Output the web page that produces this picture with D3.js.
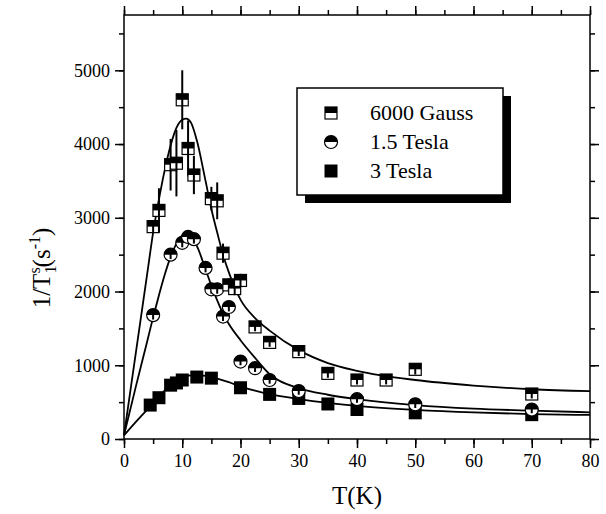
<html>
<script src="https://cdnjs.cloudflare.com/ajax/libs/d3/7.8.5/d3.min.js"></script>
<body style="margin:0;background:#fff">
<style>
.axis line { stroke: #000; stroke-width: 1.5; }
.axis .domain { display: none; }
.fit { fill: none; stroke: #000; stroke-width: 1.8; }
</style>
<script>
// 6000 Gauss
var tGauss = [5, 6, 8, 9, 10, 11, 12, 15, 16, 17, 18, 19, 20, 22.5, 25, 30, 35, 40, 45, 50, 70]
var rGauss = [2880, 3100, 3720, 3740, 4600, 3940, 3580, 3260, 3230, 2520, 2090, 2040, 2150, 1520, 1310, 1185, 890, 800, 800, 945, 610]
var eGauss = [90, 300, 350, 450, 400, 380, 260, 160, 250, 130, 90, 90, 90, 60, 60, 60, 60, 60, 60, 70, 60]
// 1.5 Tesla
var t15 = [5, 8, 10, 11, 12, 14, 15, 16, 17, 18, 20, 22.5, 25, 30, 40, 50, 70]
var r15 = [1680, 2500, 2660, 2740, 2710, 2320, 2030, 2030, 1660, 1790, 1050, 960, 800, 650, 540, 470, 400]
var e15 = [60, 60, 60, 60, 60, 60, 60, 60, 60, 60, 50, 50, 50, 50, 50, 50, 50]
// 3 Tesla
var t3 = [4.5, 6, 8, 9, 10, 12.5, 15, 20, 25, 30, 35, 40, 50, 70]
var r3 = [460, 560, 730, 760, 800, 840, 825, 695, 605, 550, 475, 400, 355, 330]

// fitted curves
var fitT = [0, 2, 4, 5, 6, 7, 8, 9, 10, 10.7, 11.5, 12.5, 14, 15, 16, 17, 18, 20, 22.5, 25, 30, 35, 40, 50, 60, 70, 80]
var fitGauss = [50, 1150, 2250, 2800, 3250, 3650, 3980, 4220, 4330, 4345, 4290, 4050, 3500, 3120, 2800, 2500, 2260, 1890, 1640, 1470, 1205, 1030, 925, 800, 725, 675, 650]
var fit15 = [50, 700, 1330, 1650, 1950, 2230, 2470, 2650, 2760, 2785, 2740, 2620, 2300, 2080, 1880, 1700, 1560, 1340, 1100, 880, 690, 600, 540, 460, 412, 384, 362]
var fit3 = [50, 230, 400, 480, 570, 660, 730, 790, 830, 850, 862, 866, 855, 840, 818, 795, 770, 710, 655, 608, 542, 490, 450, 396, 360, 337, 326]

var xTicks = [0, 10, 20, 30, 40, 50, 60, 70, 80]
var yTicks = [0, 1000, 2000, 3000, 4000, 5000]
var legendNames = ["6000 Gauss", "1.5 Tesla", "3 Tesla"]

var W = 606, H = 514
var x = d3.scaleLinear().domain([0, 80]).range([124, 590])
var y = d3.scaleLinear().domain([0, 5750]).range([439, 15])
var serif = "'Liberation Serif', 'Times New Roman', serif"

var svg = d3.select("body").append("svg").attr("width", W).attr("height", H)

function minorTicks(step, max) {
  return d3.range(0, max + 0.001, step)
}
function addAxis(axis, tx, ty) {
  var g = svg.append("g").attr("class", "axis")
    .attr("transform", "translate(" + tx + "," + ty + ")")
    .call(axis)
  g.selectAll("text").style("font-family", serif).style("font-size", "18px").attr("fill", "#000")
  return g
}

// axes: minor then major ticks, all pointing outwards
addAxis(d3.axisBottom(x).tickValues(minorTicks(5, 80)).tickSize(5).tickFormat(""), 0, 439)
addAxis(d3.axisBottom(x).tickValues(xTicks).tickSize(9).tickPadding(6).tickFormat(d3.format("d")), 0, 439)
addAxis(d3.axisTop(x).tickValues(minorTicks(5, 80)).tickSize(5).tickFormat(""), 0, 15)
addAxis(d3.axisTop(x).tickValues(xTicks).tickSize(9).tickFormat(""), 0, 15)
addAxis(d3.axisLeft(y).tickValues(minorTicks(500, 5500)).tickSize(5).tickFormat(""), 124, 0)
addAxis(d3.axisLeft(y).tickValues(yTicks).tickSize(9).tickPadding(5).tickFormat(d3.format("d")), 124, 0)
addAxis(d3.axisRight(y).tickValues(minorTicks(500, 5500)).tickSize(5).tickFormat(""), 590, 0)
addAxis(d3.axisRight(y).tickValues(yTicks).tickSize(9).tickFormat(""), 590, 0)

// frame
svg.append("rect").attr("x", 124).attr("y", 15).attr("width", 466).attr("height", 424)
  .attr("fill", "none").attr("stroke", "#000").attr("stroke-width", 1.5)

// titles
svg.append("text").attr("x", 357).attr("y", 504).attr("text-anchor", "middle")
  .style("font-family", serif).style("font-size", "25px").text("T(K)")
var yt = svg.append("text").attr("transform", "translate(50,268) rotate(-90)")
  .attr("text-anchor", "middle").style("font-family", serif).style("font-size", "25px")
yt.append("tspan").text("1/T")
yt.append("tspan").attr("dy", 6).style("font-size", "16px").text("1")
yt.append("tspan").attr("dx", -8).attr("dy", -16).style("font-size", "16px").text("s")
yt.append("tspan").attr("dy", 10).text("(s")
yt.append("tspan").attr("dy", -10).style("font-size", "16px").text("-1")
yt.append("tspan").attr("dy", 10).text(")")

// fits
var line = d3.line().x(function(d, i) { return x(fitT[i]) }).y(function(d) { return y(d) })
  .curve(d3.curveMonotoneX)
;[fitGauss, fit15, fit3].forEach(function(s) {
  svg.append("path").attr("class", "fit").datum(s).attr("d", line)
})

// markers
var S = 12
function halfSquare(g) {
  g.append("rect").attr("x", -S / 2).attr("y", -S / 2).attr("width", S).attr("height", S)
    .attr("fill", "#fff").attr("stroke", "#000").attr("stroke-width", 1.2)
  g.append("rect").attr("x", -S / 2).attr("y", -S / 2).attr("width", S).attr("height", S / 2).attr("fill", "#000")
}
function halfCircle(g) {
  var r = S / 2 + 0.5
  g.append("circle").attr("r", r).attr("fill", "#fff").attr("stroke", "#000").attr("stroke-width", 1.2)
  g.append("path").attr("d", "M" + (-r) + ",0A" + r + "," + r + " 0 0 1 " + r + ",0Z").attr("fill", "#000")
}
function fullSquare(g) {
  g.append("rect").attr("x", -S / 2 - 0.5).attr("y", -S / 2 - 0.5).attr("width", S + 1).attr("height", S + 1).attr("fill", "#000")
}

function drawSeries(ts, rs, es, shape) {
  ts.forEach(function(t, i) {
    var g = svg.append("g").attr("transform", "translate(" + x(t) + "," + y(rs[i]) + ")")
    shape(g)
    if (es) {
      svg.append("line").attr("x1", x(t)).attr("x2", x(t))
        .attr("y1", y(rs[i] - es[i])).attr("y2", y(rs[i] + es[i]))
        .attr("stroke", "#000").attr("stroke-width", 2)
    }
  })
}
drawSeries(t3, r3, null, fullSquare)
drawSeries(t15, r15, e15, halfCircle)
drawSeries(tGauss, rGauss, eGauss, halfSquare)

// legend
svg.append("rect").attr("x", 305).attr("y", 96).attr("width", 206).attr("height", 107).attr("fill", "#000")
svg.append("rect").attr("x", 297).attr("y", 88).attr("width", 206).attr("height", 107)
  .attr("fill", "#fff").attr("stroke", "#000").attr("stroke-width", 1.5)
var shapes = [halfSquare, halfCircle, fullSquare]
legendNames.forEach(function(name, i) {
  var ly = 113 + i * 29
  shapes[i](svg.append("g").attr("transform", "translate(331," + ly + ")"))
  svg.append("text").attr("x", 370).attr("y", ly + 7)
    .style("font-family", serif).style("font-size", "22px").text(name)
})
</script>
</body>
</html>
